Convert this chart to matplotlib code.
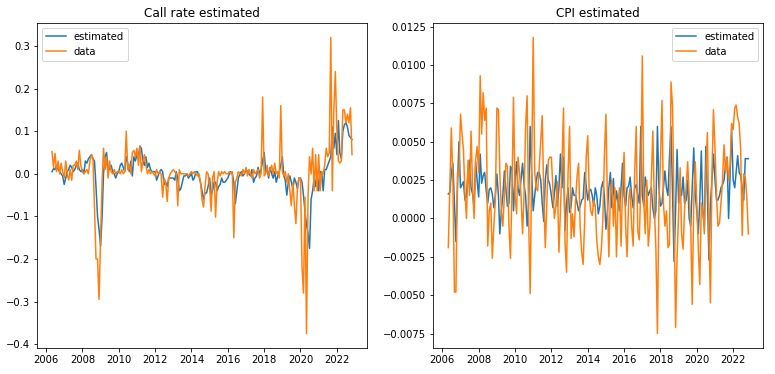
import numpy as np
import pandas as pd
import matplotlib
matplotlib.use("Agg")
import matplotlib.pyplot as plt
import matplotlib.dates as mdates

dates = pd.date_range("2006-05-01", periods=199, freq="MS")

call_data = [
    0.052, 0.015, 0.048, 0.005, 0.03, 0.0, 0.025, 0.005,
    -0.01, 0.03, 0.0, -0.015, 0.01, -0.015, 0.02, 0.02, 0.03, 0.01, 0.055, 0.02,
    0.005, 0.0, 0.005, 0.01, 0.0, 0.03, 0.045, 0.035, -0.08, -0.2, -0.2, -0.295,
    -0.15, -0.02, 0.06, 0.01, 0.04, -0.01, 0.03, 0.005, 0.0, 0.01, 0.0, 0.005,
    0.005, 0.0, 0.01, 0.0, 0.005, 0.10, 0.01, 0.02, 0.0, 0.05, 0.055, 0.04,
    0.06, 0.02, 0.065, 0.005, 0.03, 0.045, 0.02, 0.0, 0.01, 0.0, 0.005, 0.0,
    -0.005, 0.01, 0.0, 0.005, 0.0, -0.055, -0.01, -0.02, -0.065, -0.01, 0.0, 0.005,
    0.01, 0.005, 0.0, -0.075, 0.01, 0.0, 0.0, 0.0, 0.0, 0.0, -0.005, 0.0,
    0.005, 0.0, 0.005, 0.0, -0.005, 0.0, -0.02, -0.06, -0.078, -0.03, 0.005, 0.0,
    -0.03, -0.088, -0.01, 0.005, -0.102, -0.02, 0.005, -0.005, 0.005, 0.0, 0.005, 0.0,
    0.0, 0.005, 0.0, 0.005, -0.15, -0.02, -0.01, 0.005, 0.0, -0.005, 0.01, 0.0,
    0.015, -0.005, 0.01, 0.0, -0.01, 0.01, 0.0, 0.005, 0.01, -0.01, 0.0, 0.18,
    -0.005, 0.0, 0.02, -0.005, 0.01, 0.02, 0.0, 0.025, 0.0, 0.005, -0.01, 0.16,
    0.005, -0.005, 0.005, -0.02, 0.0, -0.04, -0.075, -0.02, -0.075, -0.117, -0.03, -0.01,
    -0.01, -0.22, -0.28, -0.055, -0.375, -0.05, 0.04, 0.0, 0.06, -0.04, 0.045, -0.04,
    0.045, -0.04, 0.005, 0.0, 0.02, 0.06, 0.04, 0.05, 0.32, -0.04, 0.15, 0.24,
    0.1, 0.03, 0.025, 0.03, 0.15, 0.15, 0.12, 0.14, 0.12, 0.155, 0.045,
]

call_est = [
    0.005, 0.012, 0.01, 0.02, 0.01, 0.005, 0.0, -0.005,
    -0.025, -0.01, 0.005, 0.01, 0.02, 0.015, 0.005, 0.01, 0.02, 0.025, 0.01, 0.005,
    0.01, 0.0, 0.03, 0.025, 0.035, 0.04, 0.045, 0.035, 0.03, -0.03, -0.1, -0.13,
    -0.17, -0.1, 0.0, 0.04, 0.05, 0.015, 0.01, 0.02, 0.005, 0.0, -0.01, 0.0,
    0.005, 0.02, 0.025, 0.015, 0.005, 0.04, 0.025, 0.005, 0.03, -0.005, 0.04, 0.03,
    0.045, 0.04, 0.065, 0.06, 0.03, 0.02, 0.04, 0.015, 0.025, 0.01, 0.005, 0.005,
    0.005, -0.015, -0.005, 0.005, 0.01, 0.005, -0.025, -0.02, -0.03, -0.01, -0.01, -0.01,
    -0.01, -0.015, 0.005, -0.01, -0.04, -0.035, -0.02, -0.005, -0.005, 0.0, -0.01, -0.005,
    0.0, -0.015, -0.01, 0.005, 0.005, -0.005, -0.02, -0.04, -0.06, -0.045, -0.045, -0.03,
    -0.01, -0.05, -0.04, -0.02, -0.02, -0.04, -0.03, -0.025, -0.01, -0.02, -0.02, -0.015,
    -0.01, 0.0, 0.005, 0.0, -0.02, -0.07, -0.04, -0.01, 0.0, 0.005, -0.005, 0.0,
    0.01, 0.005, 0.0, -0.005, 0.01, -0.02, -0.01, -0.005, 0.015, 0.0, 0.01, 0.03,
    0.05, 0.005, 0.01, -0.01, 0.015, 0.0, -0.01, 0.005, -0.02, -0.005, 0.005, 0.02,
    0.04, -0.005, -0.015, -0.05, -0.02, -0.005, -0.02, -0.035, -0.01, -0.02, -0.035, -0.01,
    -0.01, -0.02, -0.05, -0.09, -0.12, -0.14, -0.175, -0.06, -0.04, -0.01, -0.03, 0.005,
    -0.04, 0.005, 0.005, -0.04, 0.01, 0.01, 0.02, 0.03, 0.04, 0.11, 0.06, 0.095,
    0.045, 0.125, 0.05, 0.035, 0.1, 0.115, 0.12, 0.11, 0.09, 0.085, 0.08,
]

cpi_data_milli = [
    -1.9, 2.0, 5.9, 2.5, -4.8, -4.8, 3.0, 2.8,
    6.8, 5.5, 4.5, 1.6, 0.0, 3.8, 1.5, 5.7, 2.0, 0.0, 3.8, 4.7,
    3.0, 9.3, 5.5, 8.2, 6.4, 7.2, -1.8, 0.5, 1.0, -2.6, -0.5, 1.2,
    7.2, 7.1, 3.0, 0.5, -0.5, 1.5, 3.6, 3.4, -0.5, -2.6, 2.0, 7.9,
    1.5, 0.3, 4.0, 3.0, 1.5, -1.0, 1.5, 6.0, 8.0, 0.0, -4.9, 3.5,
    11.8, 3.0, 2.0, 1.8, 3.3, 5.0, 6.7, 1.5, -1.9, 1.0, 3.8, 4.0,
    4.0, 2.0, 0.0, 0.8, 2.4, -2.2, 0.5, 3.5, 7.2, -1.5, -3.5, 3.0,
    6.0, -1.3, 0.3, -1.2, 1.2, 2.8, 3.6, -0.5, -2.2, -3.0, 0.0, 4.0,
    5.4, 1.5, 0.5, 0.2, 1.2, 0.8, -1.4, -2.5, -3.0, -2.0, 0.0, 4.0,
    6.8, 1.0, -2.5, 1.5, 2.5, -0.5, 2.0, -2.5, 1.0, 2.0, -1.8, 2.0,
    4.3, -0.5, -2.5, 1.2, 2.0, -0.5, -1.8, 3.0, 6.0, -0.8, -1.4, 2.0,
    10.6, 1.0, -1.0, 2.5, -1.8, -0.5, 2.5, 5.7, 0.8, -2.0, -7.5, 1.0,
    3.8, 7.7, 1.0, -0.5, 0.5, -1.9, -1.7, 8.9, 7.3, 0.5, -7.1, -2.5,
    0.3, 3.3, -1.0, -2.0, 0.7, 2.0, 3.7, 1.5, -0.5, -5.6, 1.0, 3.7,
    1.0, -2.0, -4.3, 1.0, 0.5, -1.0, 3.0, 5.6, -1.0, -5.5, 3.0, 7.1,
    4.5, 1.5, -0.5, -0.3, 1.0, 2.5, 4.8, 3.0, 4.0, 2.5, 3.5, 6.2,
    5.8, 7.2, 7.4, 6.6, 6.2, 4.5, -1.1, 2.9, 2.7, 1.5, -1.0,
]

cpi_est_milli = [
    1.6, 1.7, 3.0, 3.6, 1.0, -1.5, 2.0, 5.0,
    2.0, 2.2, 2.4, 1.2, 1.5, 3.0, 3.8, 2.0, 1.6, 0.7, 3.7, 2.5,
    1.4, 4.2, 2.3, 2.8, 3.0, 1.8, 1.0, 1.9, 2.0, 1.6, 0.7, 1.5,
    2.9, 1.5, -1.0, 0.5, 1.5, 3.1, 2.0, 0.8, 1.0, 3.4, 3.2, 0.5,
    2.5, 3.7, 2.0, 1.5, 2.5, 3.6, 2.2, 1.5, -0.5, 1.0, 6.0, 3.0,
    0.5, 1.5, 2.4, 3.0, 3.0, 2.5, 1.0, -0.2, 2.5, 3.5, 2.5, 2.2,
    1.5, 0.7, 1.6, 2.8, 0.8, 2.0, 4.2, 2.0, 4.0, -0.8, 1.0, 2.0,
    0.4, 0.8, 2.0, 1.5, 1.5, 1.0, 0.5, 0.8, 1.2, 1.3, 3.0, 2.1,
    1.2, 1.8, 1.9, 1.5, 0.8, 2.0, 1.5, 0.3, 0.8, 2.0, 2.4, 1.5,
    -0.7, 0.5, 2.0, 3.0, 0.7, 2.6, 0.7, 1.8, 1.0, 0.5, 2.0, 3.6,
    1.5, 0.8, 2.0, 2.1, 2.7, 1.5, 0.7, 2.0, 2.2, 1.5, 1.0, 6.0,
    1.5, 0.8, 2.7, 2.0, 1.5, 1.8, 2.0, 0.7, 0.0, 0.5, 6.0, 2.0,
    0.8, 1.0, 2.0, 3.1, 2.0, 1.5, 4.0, 6.0, 1.5, -2.8, 0.5, 4.5,
    1.0, 2.0, 1.5, 2.7, 1.0, 1.2, 2.5, 0.0, -0.5, 2.0, 4.6, 1.5,
    0.5, -1.0, 1.2, 4.4, 0.5, -0.5, 4.7, 1.5, -2.7, 1.0, 2.5, 4.2,
    2.5, 1.2, 1.2, 1.5, 2.0, 2.2, 2.5, 3.5, 4.0, 0.0, 3.0, 5.8,
    2.5, 2.0, 3.0, 4.1, 3.0, 2.8, 2.0, 1.2, 3.9, 3.9, 3.9,
]

cpi_data = np.array(cpi_data_milli[:199]) / 1000.0
cpi_est = np.array(cpi_est_milli[:199]) / 1000.0

W, H = 775, 374
fig = plt.figure(figsize=(W / 72, H / 72), dpi=72)
ax1 = fig.add_axes([37 / W, (H - 348.3) / H, 330 / W, 325.6 / H])
ax2 = fig.add_axes([433.3 / W, (H - 348.3) / H, 330 / W, 325.6 / H])

n = min(len(dates), len(call_data), len(call_est))
ax1.plot(dates[:n], call_est[:n], color="#1f77b4", label="estimated")
ax1.plot(dates[:n], call_data[:n], color="#ff7f0e", label="data")
ax1.set_title("Call rate estimated", fontsize=12)
ax1.legend(loc="upper left")

m = min(len(dates), len(cpi_data), len(cpi_est))
ax2.plot(dates[:m], cpi_est[:m], color="#1f77b4", label="estimated")
ax2.plot(dates[:m], cpi_data[:m], color="#ff7f0e", label="data")
ax2.set_title("CPI estimated", fontsize=12)
ax2.legend(loc="upper right")

for ax in (ax1, ax2):
    ax.xaxis.set_major_locator(mdates.YearLocator(2))
    ax.xaxis.set_major_formatter(mdates.DateFormatter("%Y"))

fig.savefig("out.png", dpi=72)
